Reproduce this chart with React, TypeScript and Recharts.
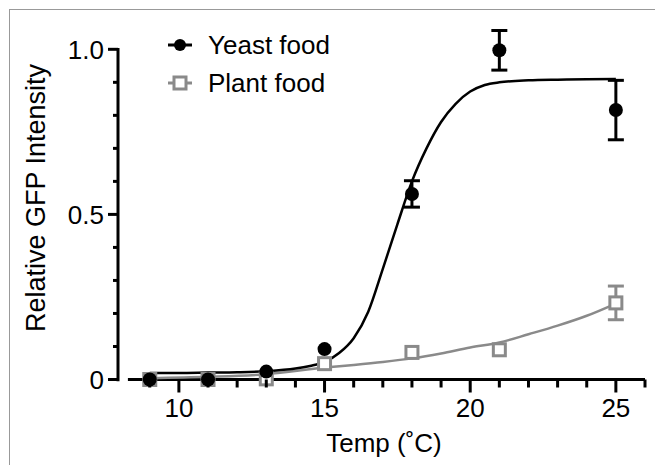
import {
  ComposedChart,
  ErrorBar,
  Legend,
  Line,
  ReferenceLine,
  Scatter,
  XAxis,
  YAxis,
} from "recharts";

const FONT = "'Liberation Sans', Arial, Helvetica, sans-serif";
const INK = "#000";
const GREY = "#8a8a8a";

// measured points (mean +/- error)
const temps = [9, 11, 13, 15, 18, 21, 25];
const yeastMean = [0.0, 0.0, 0.024, 0.092, 0.562, 0.997, 0.816];
const yeastErr = [0, 0, 0, 0, 0.04, 0.06, 0.09];
const plantMean = [0.0, 0.0, 0.002, 0.048, 0.082, 0.09, 0.232];
const plantErr = [0, 0, 0, 0, 0, 0, 0.051];

// fitted curves
const yeastFitTemp = [9, 10, 11, 12, 13, 14, 14.5, 15, 15.5, 16, 16.5, 17, 17.5, 18, 18.5, 19, 19.5, 20, 20.5, 21, 22, 23, 24, 25];
const yeastFitValue = [0.02, 0.02, 0.021, 0.022, 0.025, 0.033, 0.041, 0.053, 0.08, 0.125, 0.205, 0.335, 0.47, 0.6, 0.7, 0.78, 0.835, 0.872, 0.892, 0.9, 0.906, 0.908, 0.909, 0.91];
const plantFitTemp = [9, 11, 13, 15, 16, 17, 18, 19, 20, 21, 22, 23, 24, 25];
const plantFitValue = [0.004, 0.008, 0.016, 0.036, 0.044, 0.053, 0.064, 0.079, 0.097, 0.112, 0.137, 0.163, 0.193, 0.23];

const xTicks = [9, 10, 11, 12, 13, 14, 15, 16, 17, 18, 19, 20, 21, 22, 23, 24, 25, 26];
const xTickLabels = [10, 15, 20, 25];
const yTicks = [0, 0.1, 0.2, 0.3, 0.4, 0.5, 0.6, 0.7, 0.8, 0.9, 1.0];
const yTickLabels: Record<string, string> = { "0": "0", "0.5": "0.5", "1": "1.0" };

const X_MIN = 7.91;
const X_AXIS_START = 8.25;
const X_MAX = 26;
const Y_TOP = 1.06; // headroom so the top error bar is not squeezed

const yeastPoints = temps.map((x, i) => ({ x, y: yeastMean[i], err: yeastErr[i] }));
const plantPoints = temps.map((x, i) => ({ x, y: plantMean[i], err: plantErr[i] }));
const yeastFit = yeastFitTemp.map((x, i) => ({ x, y: yeastFitValue[i] }));
const plantFit = plantFitTemp.map((x, i) => ({ x, y: plantFitValue[i] }));

const legendItems = [
  { label: "Yeast food", color: INK, marker: "circle" },
  { label: "Plant food", color: GREY, marker: "square" },
];

function XTick({ x, y, payload }: any) {
  const v = payload.value;
  const major = xTickLabels.includes(v);
  return (
    <g>
      <line x1={x} x2={x} y1={y} y2={y + (major ? 13 : 8)} stroke={INK} strokeWidth={3} />
      {major && (
        <text x={x} y={y + 37.5} textAnchor="middle" fontSize={26} fontFamily={FONT} fill={INK}>
          {v}
        </text>
      )}
    </g>
  );
}

function YTick({ x, y, payload }: any) {
  const label = yTickLabels[String(payload.value)];
  return (
    <g>
      <line x1={x - (label ? 10 : 5)} x2={x} y1={y} y2={y} stroke={INK} strokeWidth={3} />
      {label && (
        <text x={x - 14} y={y} dy="0.36em" textAnchor="end" fontSize={26} fontFamily={FONT} fill={INK}>
          {label}
        </text>
      )}
    </g>
  );
}

const Dot = (p: any) => <circle cx={p.cx} cy={p.cy} r={7} fill={INK} />;
const Box = (p: any) => (
  <rect x={p.cx - 6} y={p.cy - 6} width={12} height={12} fill="#fff" stroke={GREY} strokeWidth={3} />
);

function LegendBox() {
  return (
    <div style={{ fontFamily: FONT, fontSize: 26, color: INK }}>
      {legendItems.map((it) => (
        <div key={it.label} style={{ display: "flex", alignItems: "center", height: 38 }}>
          <svg width={48} height={38}>
            <line x1={8} x2={32} y1={19} y2={19} stroke={it.color} strokeWidth={3} />
            {it.marker === "circle" ? (
              <circle cx={20} cy={19} r={6} fill={it.color} />
            ) : (
              <rect x={14} y={13} width={12} height={12} fill="#fff" stroke={it.color} strokeWidth={3} />
            )}
          </svg>
          <span>{it.label}</span>
        </div>
      ))}
    </div>
  );
}

export default function App() {
  return (
    <div style={{ position: "absolute", left: 0, top: 0, width: 655, height: 465, overflow: "hidden", background: "#fff" }}>
      <div
        style={{
          position: "absolute",
          left: 9,
          top: 9,
          width: 700,
          height: 500,
          border: "1px solid #999",
        }}
      />
      <div style={{ position: "absolute", left: 0, top: 0 }}>
        <ComposedChart width={655} height={465} margin={{ top: 29.5, right: 10, bottom: 0, left: 0 }}>
          <XAxis
            type="number"
            dataKey="x"
            domain={() => [X_MIN, X_MAX]}
            ticks={xTicks}
            interval={0}
            height={85.5}
            axisLine={false}
            tickLine={false}
            tickSize={0}
            tickMargin={0}
            tick={<XTick />}
            label={{
              content: () => (
                <text x={384} y={452} textAnchor="middle" fontSize={26} fontFamily={FONT} fill={INK}>
                  Temp (˚C)
                </text>
              ),
            }}
          />
          <YAxis
            type="number"
            dataKey="y"
            domain={() => [0, Y_TOP]}
            ticks={yTicks}
            interval={0}
            width={118}
            axisLine={false}
            tickLine={false}
            tickSize={0}
            tickMargin={0}
            tick={<YTick />}
            label={{
              content: () => (
                <text
                  x={45}
                  y={198}
                  transform="rotate(-90 45 198)"
                  textAnchor="middle"
                  fontSize={27}
                  fontFamily={FONT}
                  fill={INK}
                >
                  Relative GFP Intensity
                </text>
              ),
            }}
          />
          <ReferenceLine
            segment={[
              { x: X_MIN, y: -0.005 },
              { x: X_MIN, y: 1.004 },
            ]}
            stroke={INK}
            strokeWidth={3}
            ifOverflow="visible"
          />
          <ReferenceLine
            segment={[
              { x: X_AXIS_START, y: 0 },
              { x: X_MAX, y: 0 },
            ]}
            stroke={INK}
            strokeWidth={3}
            ifOverflow="visible"
          />
          <Legend
            layout="vertical"
            verticalAlign="middle"
            align="center"
            wrapperStyle={{ left: 160, top: 26, width: 240 }}
            content={<LegendBox />}
          />
          <Line data={plantFit} dataKey="y" type="monotone" stroke={GREY} strokeWidth={2.5} dot={false} activeDot={false} isAnimationActive={false} legendType="none" />
          <Line data={yeastFit} dataKey="y" type="monotone" stroke={INK} strokeWidth={2.5} dot={false} activeDot={false} isAnimationActive={false} legendType="none" />
          <Scatter data={plantPoints} dataKey="y" shape={Box} isAnimationActive={false} name="Plant food">
            <ErrorBar dataKey="err" direction="y" width={8} stroke={GREY} strokeWidth={3} />
          </Scatter>
          <Scatter data={yeastPoints} dataKey="y" shape={Dot} isAnimationActive={false} name="Yeast food">
            <ErrorBar dataKey="err" direction="y" width={8} stroke={INK} strokeWidth={3} />
          </Scatter>
        </ComposedChart>
      </div>
    </div>
  );
}
